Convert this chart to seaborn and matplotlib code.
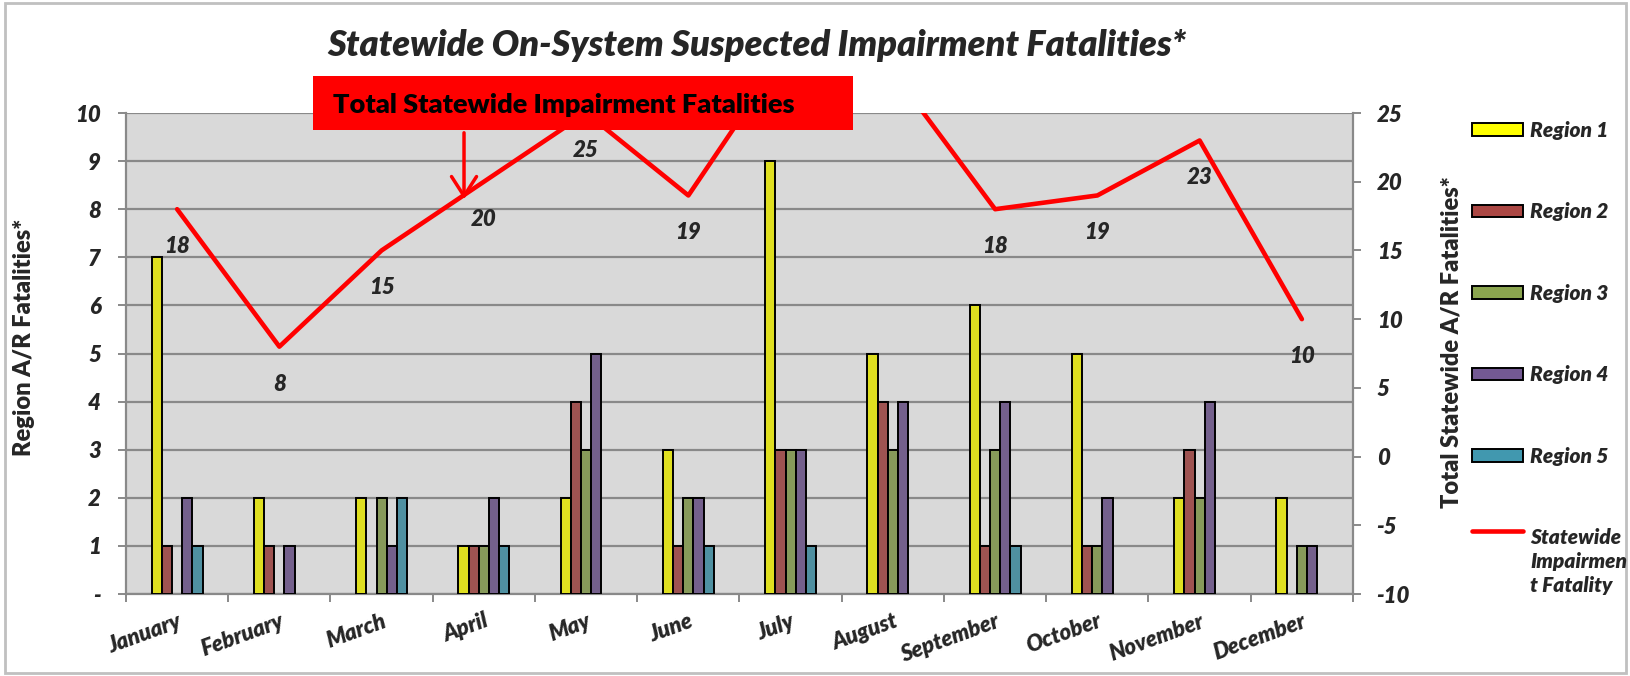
import numpy as np
import pandas as pd
import matplotlib
matplotlib.use("Agg")
import matplotlib.pyplot as plt
import seaborn as sns
from matplotlib.patches import Patch, Rectangle
from matplotlib.lines import Line2D
from matplotlib.legend_handler import HandlerLine2D
from matplotlib.ticker import FixedLocator

# ---------------- data ----------------
months = ["January", "February", "March", "April", "May", "June", "July",
          "August", "September", "October", "November", "December"]
regions = ["Region 1", "Region 2", "Region 3", "Region 4", "Region 5"]
region1 = [7, 2, 2, 1, 2, 3, 9, 5, 6, 5, 2, 2]
region2 = [1, 1, 0, 1, 4, 1, 3, 4, 1, 1, 3, 0]
region3 = [0, 0, 2, 1, 3, 2, 3, 3, 3, 1, 2, 1]
region4 = [2, 1, 1, 2, 5, 2, 3, 4, 4, 2, 4, 1]
region5 = [1, 0, 2, 1, 0, 1, 1, 0, 1, 0, 0, 0]
statewide = [18, 8, 15, 20, 25, 19, 30, 28, 18, 19, 23, 10]
left_ticks = [0, 1, 2, 3, 4, 5, 6, 7, 8, 9, 10]
left_ticklabels = ["-", "1", "2", "3", "4", "5", "6", "7", "8", "9", "10"]
right_ticks = [-10, -5, 0, 5, 10, 15, 20, 25]
line_label = "Statewide\nImpairmen\nt Fatality"
title = "Statewide On-System Suspected Impairment Fatalities*"
box_text = "Total Statewide Impairment Fatalities"

colors = ["#FFFF00", "#AB4744", "#8BA54F", "#735993", "#4198AF"]

# ---------------- styling ----------------
sns.set_theme(style="white")
plt.rcParams["font.family"] = ["Lato", "DejaVu Sans"]
W = "heavy"

df = pd.DataFrame({
    "Month": np.repeat(months, len(regions)),
    "Region": regions * len(months),
    "Fatalities": np.ravel(np.column_stack([region1, region2, region3, region4, region5])),
})

fig = plt.figure(figsize=(16.31, 6.76), dpi=100)
ax = fig.add_axes([0.07725, 0.1213, 0.7523, 0.71154])
ax.set_facecolor("#D9D9D9")

grid_col = "#898989"
sns.barplot(data=df, x="Month", y="Fatalities", hue="Region", order=months,
            hue_order=regions, palette=colors, width=0.5, gap=0,
            edgecolor="black", linewidth=1.4, ax=ax, legend=False, zorder=3)
for p in ax.patches:
    if p.get_height() == 0:
        p.set_visible(False)

ax.set_xlim(-0.5, len(months) - 0.5)
ax.set_ylim(0, 10)
ax.set_yticks(left_ticks)
ax.set_yticklabels(left_ticklabels, fontsize=16, fontweight=W, style="italic")
ax.yaxis.grid(True, color=grid_col, lw=1.6, zorder=0)
ax.set_axisbelow(True)
ax.tick_params(axis="y", direction="out", length=6, width=1.4, color=grid_col,
               pad=12, left=True)
ax.set_xlabel("")
ax.set_ylabel("Region A/R Fatalities*", fontsize=17, fontweight=W)
ax.yaxis.set_label_coords(-0.074, 0.534)

ax.set_xticks(np.arange(len(months)))
ax.set_xticklabels(months, rotation=20, ha="right", rotation_mode="anchor",
                   fontsize=16, fontweight=W, style="italic")
ax.xaxis.set_minor_locator(FixedLocator(np.arange(len(months) + 1) - 0.5))
ax.tick_params(axis="x", which="major", length=0, pad=12)
ax.tick_params(axis="x", which="minor", direction="out", length=6, width=1.4,
               color=grid_col, bottom=True)
for s in ["top", "right"]:
    ax.spines[s].set_visible(False)
for s in ["left", "bottom"]:
    ax.spines[s].set_color(grid_col)
    ax.spines[s].set_linewidth(1.6)

# ---------------- secondary axis line ----------------
ax2 = ax.twinx()
sns.lineplot(x=np.arange(len(months)), y=statewide, ax=ax2, color="#FF0000",
             lw=3.3, zorder=4)
ax2.set_ylim(-10, 25)
ax2.set_xlim(-0.5, len(months) - 0.5)
ax2.set_yticks(right_ticks)
ax2.set_yticklabels([str(t) for t in right_ticks], fontsize=16,
                    fontweight=W, style="italic")
ax2.tick_params(axis="y", direction="out", length=6, width=1.4, color=grid_col,
                pad=11, right=True)
for s in ["top", "left", "bottom"]:
    ax2.spines[s].set_visible(False)
ax2.spines["right"].set_color(grid_col)
ax2.spines["right"].set_linewidth(1.6)
ax2.set_ylabel("Total Statewide A/R Fatalities*", fontsize=17, fontweight=W)
ax2.yaxis.set_label_coords(1.071, 0.524)

for i, v in enumerate(statewide):
    ax2.annotate(str(v), (i, v), xytext=(0, -27), textcoords="offset points",
                 ha="center", va="center", fontsize=16, fontweight=W,
                 style="italic", annotation_clip=True, zorder=5)

# ---------------- title & callout ----------------
fig.text(0.464, 0.932, title, ha="center", va="center", fontsize=26,
         fontweight=W, style="italic")

fig.patches.append(Rectangle((0.1919, 0.8077), 0.3311, 0.0799,
                             transform=fig.transFigure, facecolor="#FF0000",
                             edgecolor="none", zorder=10))
fig.text(0.2042, 0.8447, box_text, ha="left", va="center", fontsize=19.5,
         fontweight=W, color="black", zorder=11)
fig.add_artist(matplotlib.patches.FancyArrowPatch(
    (0.2845, 0.8077), (0.2845, 0.7012), transform=fig.transFigure,
    arrowstyle="->,head_width=0.45,head_length=0.7", mutation_scale=20,
    color="#FF0000", lw=2.5, zorder=9))

# ---------------- legend ----------------
LS = 1.32


class UpLine(HandlerLine2D):
    def create_artists(self, legend, orig_handle, xdescent, ydescent, width,
                       height, fontsize, trans):
        arts = super().create_artists(legend, orig_handle, xdescent, ydescent,
                                      width, height, fontsize, trans)
        for a in arts:
            a.set_ydata(np.asarray(a.get_ydata()) + 1.17 * LS * fontsize)
        return arts


handles = [Patch(facecolor=c, edgecolor="black", linewidth=1.4) for c in colors]
line_handle = Line2D([], [], color="#FF0000", lw=3.3)
handles.append(line_handle)
labels = regions + [line_label]
leg = fig.legend(handles, labels, loc="upper left", bbox_to_anchor=(0.9025, 0.8215),
                 frameon=False, borderpad=0, borderaxespad=0, handlelength=2.45,
                 handleheight=0.55, handletextpad=0.35, labelspacing=3.0,
                 prop=dict(size=15, weight=W, style="italic"),
                 handler_map={line_handle: UpLine()})
leg.get_texts()[-1].set_linespacing(LS)

# ---------------- border ----------------
fig.patches.append(Rectangle((0.003, 0.005), 0.994, 0.99, transform=fig.transFigure,
                             facecolor="none", edgecolor="#C0C0C0", lw=2, zorder=0))

fig.savefig("out.png", dpi=100)
